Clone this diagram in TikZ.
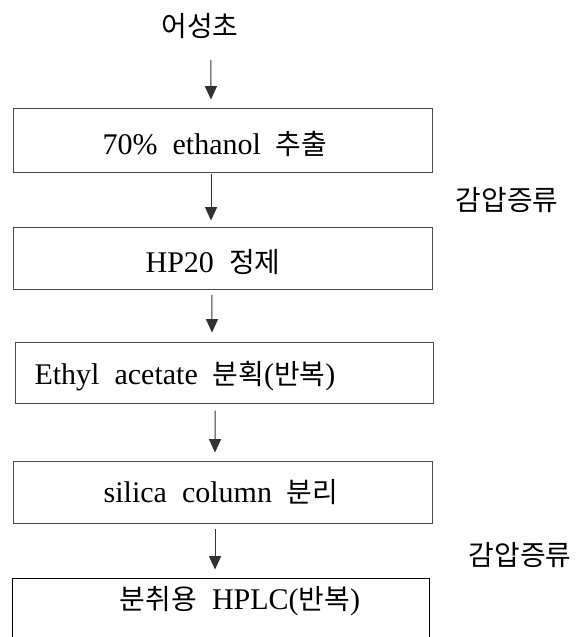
\documentclass[tikz,border=0pt]{standalone}
\usepackage{fontspec}
\setmainfont{Liberation Serif}[WordSpace=2]
\newfontfamily\kr{Noto Sans CJK KR}[Scale=0.93]
\usetikzlibrary{arrows.meta}

\tikzset{
  stage/.style={draw=black!70, line width=0.75pt, minimum width={419*0.75pt}, minimum height={62*0.75pt}, inner sep=0pt},
  lbl/.style={inner sep=0pt},
  flow/.style={-{Triangle[width=9pt,length=10pt]}, line width=0.75pt, black!80, shorten >=6pt, shorten <=4pt}
}

\begin{document}
\begin{tikzpicture}[x=0.75pt,y=-0.75pt,font=\fontsize{22.5}{27}\selectfont]
\clip (0,0) rectangle (579,637);
\fill[white] (0,0) rectangle (579,637);

% boxes
\node[stage, minimum height={64*0.75pt}] (b1) at (222.5,140) {};
\node[stage] (b2) at (222.5,258) {};
\node[stage, minimum width={418*0.75pt}, minimum height={61*0.75pt}] (b3) at (224,372.5) {};
\node[stage] (b4) at (222.5,492) {};
\node[stage, draw=black, minimum width={417*0.75pt}, minimum height={80*0.75pt}] (b5) at (220.5,618) {};

% texts
\node[lbl] (src) at (200,26) {\kr 어성초};
\node[lbl] (t1) at (215,144) {70\% ethanol {\kr 추출}};
\node[lbl] (t2) at (213,262) {HP20 {\kr 정제}};
\node[lbl] (t3) at (185,376) {Ethyl acetate {\kr 분획}({\kr 반복})};
\node[lbl] (t4) at (221,492) {silica column {\kr 분리}};
\node[lbl] (t5) at (240,601) {{\kr 분취용} HPLC({\kr 반복})};
\node[lbl] (r1) at (507,200) {\kr 감압증류};
\node[lbl] (r2) at (520,555) {\kr 감압증류};

% arrows
\draw[flow, shorten <=16pt] ([xshift=8pt]src.south) -- ([xshift=-8.6pt]b1.north);
\draw[flow, shorten <=0.75pt, shorten >=4.5pt] ([xshift=-8.6pt]b1.south) -- ([xshift=-8.6pt]b2.north);
\draw[flow, shorten >=6.75pt] ([xshift=-7.9pt]b2.south) -- ([xshift=-9pt]b3.north);
\draw[flow, shorten <=5.25pt] ([xshift=-6.75pt]b3.south) -- ([xshift=-5.6pt]b4.north);
\draw[flow] ([xshift=-5.6pt]b4.south) -- ([xshift=-4.1pt]b5.north);
\end{tikzpicture}
\end{document}
